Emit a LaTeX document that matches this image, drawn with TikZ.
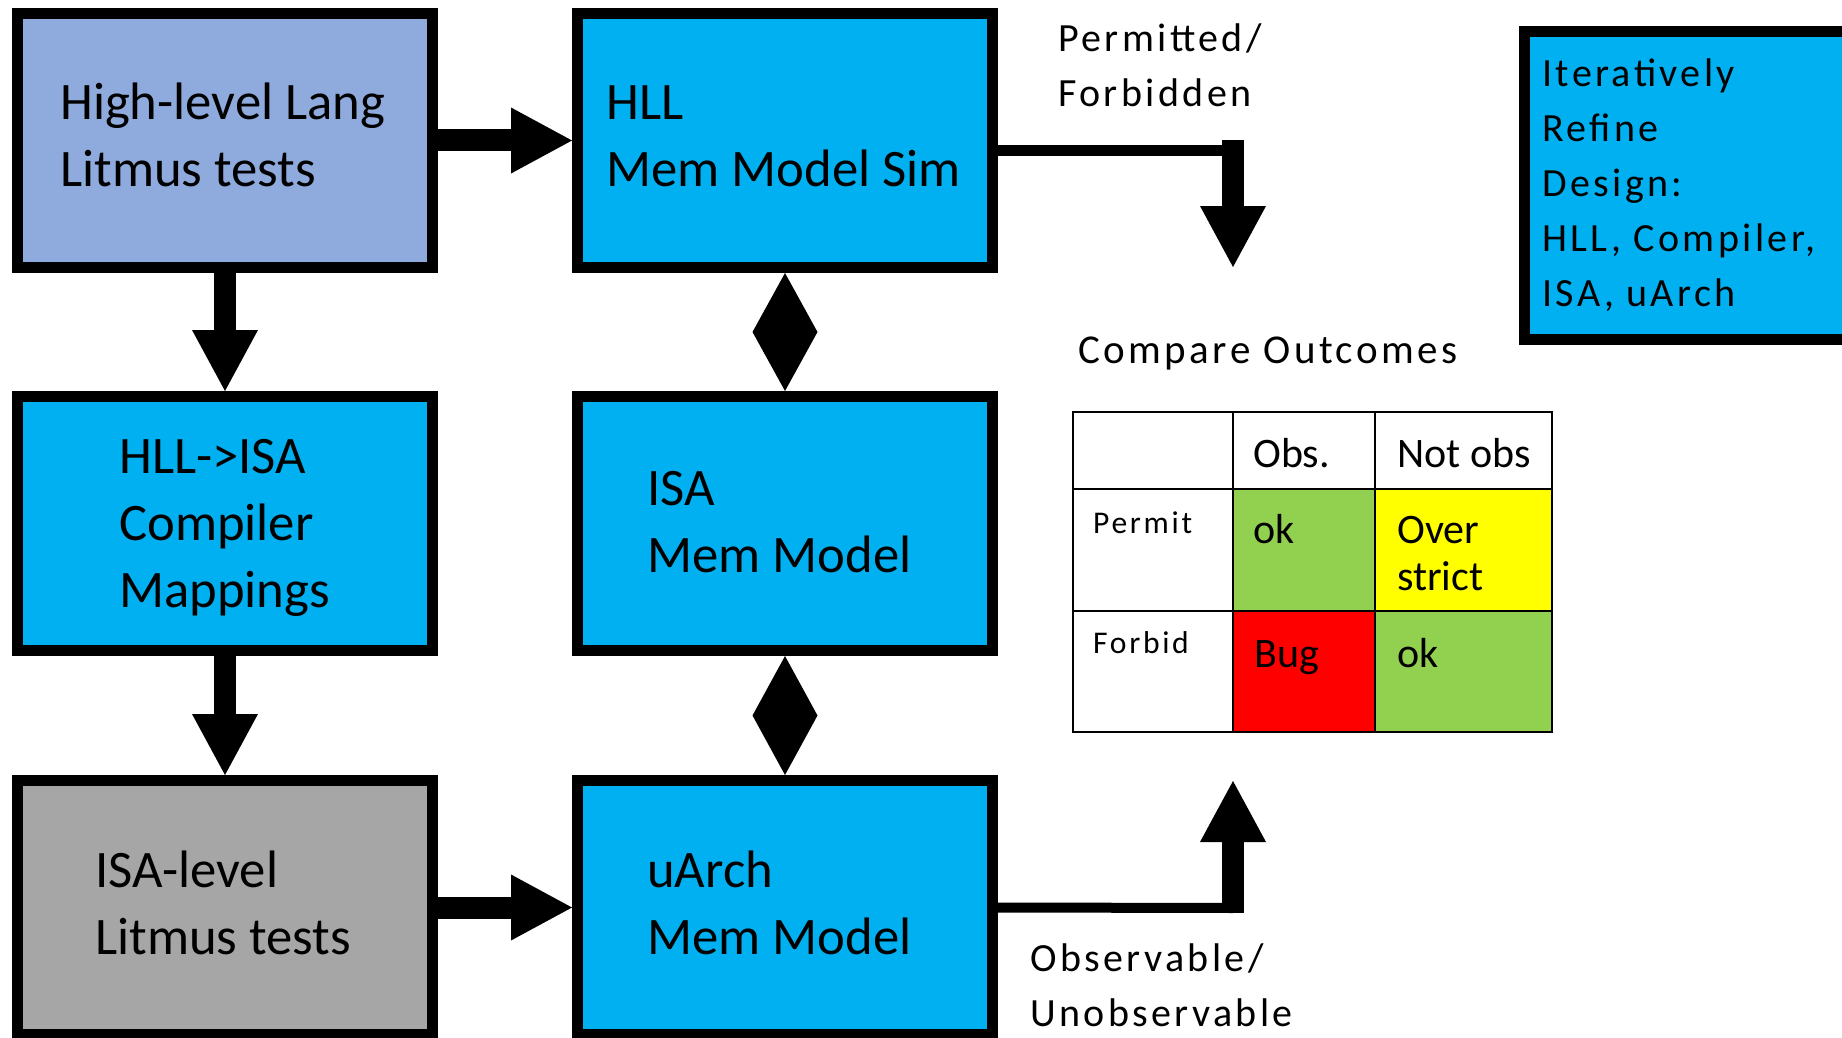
\documentclass[tikz,border=0pt]{standalone}
\usepackage{fontspec}
\setmainfont{Carlito}
\newfontfamily\spacedfont[LetterSpace=8.5]{Carlito}
\usetikzlibrary{arrows.meta,calc}
\definecolor{hllblue}{HTML}{8FAADC}
\definecolor{simcyan}{HTML}{00B0F0}
\definecolor{isagray}{HTML}{A6A6A6}
\definecolor{okgreen}{HTML}{92D050}
\definecolor{warnyellow}{HTML}{FFFF00}
\definecolor{bugred}{HTML}{FF0000}

\begin{document}
\begin{tikzpicture}[x=1pt,y=-1pt,
  stage/.style={draw=black, line width=11pt, minimum width=415pt, minimum height=254pt,
                inner sep=0pt, anchor=north west},
  % multi-line nodes are placed by the baseline of their last line
  boxtext/.style={font=\fontsize{52.7pt}{67pt}\selectfont, align=left, inner sep=0pt, anchor=base west},
  lbl/.style={font=\spacedfont\fontsize{40pt}{55pt}\selectfont, align=left, inner sep=0pt, anchor=base west},
  celltext/.style={font=\fontsize{42pt}{47pt}\selectfont, align=left, inner sep=0pt, anchor=base west},
  rowhead/.style={font=\spacedfont\fontsize{31.6pt}{36pt}\selectfont, inner sep=0pt, anchor=base west},
  blockarrow/.style={line width=22pt, -{Triangle[length=61pt,width=66pt,line width=0pt]}},
  grid/.style={line width=2.5pt, black}]

\useasboundingbox (0,0) rectangle (1842,1038);
\clip (0,0) rectangle (1842,1038);
\fill[white] (0,0) rectangle (1842,1038);

% stage boxes
\node[stage, fill=hllblue] (hll)     at (12,8)   {};
\node[stage, fill=simcyan] (hllsim)  at (572,8)  {};
\node[stage, fill=simcyan] (comp)    at (12,391) {};
\node[stage, fill=simcyan] (isamm)   at (572,391) {};
\node[stage, fill=isagray] (isatest) at (12,775) {};
\node[stage, fill=simcyan] (uarch)   at (572,775) {};
\node[stage, fill=simcyan, minimum width=330pt, minimum height=308pt] (refine) at (1519,26) {};

% box texts
\node[boxtext] (hlltxt)     at (60,186)  {High-level Lang\\Litmus tests};
\node[boxtext] (hllsimtxt)  at (606,186) {HLL\\Mem Model Sim};
\node[boxtext] (comptxt)    at (119,607) {HLL->ISA\\Compiler\\Mappings};
\node[boxtext] (isammtxt)   at (647,572) {ISA\\Mem Model};
\node[boxtext] (isatesttxt) at (95,954)  {ISA-level\\Litmus tests};
\node[boxtext] (uarchtxt)   at (647,954) {uArch\\Mem Model};
\node[lbl] (refinetxt) at (1542,306) {Iteratively\\Refine\\Design:\\HLL, Compiler,\\ISA, uArch};

% flow arrows
\draw[blockarrow] (hll.east) -- (hllsim.west);
\draw[blockarrow] (hll.south) -- (comp.north);
\draw[blockarrow] (comp.south) -- (isatest.north);
\draw[blockarrow] (isatest.east) -- (uarch.west);

% two-way links between the model levels
\fill (hllsim.south) -- ($(hllsim.south)!0.5!(isamm.north)+(32.5,0)$) -- (isamm.north)
      -- ($(hllsim.south)!0.5!(isamm.north)+(-32.5,0)$) -- cycle;
\fill (isamm.south) -- ($(isamm.south)!0.5!(uarch.north)+(32.5,0)$) -- (uarch.north)
      -- ($(isamm.south)!0.5!(uarch.north)+(-32.5,0)$) -- cycle;

% outcomes feeding the comparison
\coordinate (pfrow) at (1244,151);
\coordinate (pftop) at (1233,140);
\coordinate (cmpin) at (1233,267);
\draw[line width=11pt] (hllsim.east |- pfrow) -- (pfrow);
\draw[blockarrow] (pftop) -- (cmpin);

\coordinate (oubend) at (1233,908);
\coordinate (oubase) at (1233,913);
\coordinate (cmpin2) at (1233,781);
\draw[line width=10pt] (uarch.east) -- (oubend);
\draw[blockarrow] (oubase) -- (cmpin2);

\node[lbl] (pflbl) at (1058,107) {Permitted/\\Forbidden};
\node[lbl] (oulbl) at (1030,1026) {Observable/\\Unobservable};
\node[lbl, font=\spacedfont\fontsize{41pt}{55pt}\selectfont] (cmplbl) at (1078,363) {Compare Outcomes};

% outcome table
\fill[okgreen]    (1233,489) rectangle (1375,611);
\fill[warnyellow] (1375,489) rectangle (1552,611);
\fill[bugred]     (1233,611) rectangle (1375,732);
\fill[okgreen]    (1375,611) rectangle (1552,732);
\draw[grid] (1073,412) rectangle (1552,732);
\draw[grid] (1233,412) -- (1233,732);
\draw[grid] (1375,412) -- (1375,732);
\draw[grid] (1073,489) -- (1552,489);
\draw[grid] (1073,611) -- (1552,611);

\node[celltext] (obs)    at (1253,467) {Obs.};
\node[celltext] (notobs) at (1397,467) {Not obs};
\node[rowhead]  (permit) at (1093,533) {Permit};
\node[celltext] (ok1)    at (1253,543) {ok};
\node[celltext] (over)   at (1397,590) {Over\\strict};
\node[rowhead]  (forbid) at (1093,653) {Forbid};
\node[celltext] (bug)    at (1254,667) {Bug};
\node[celltext] (ok2)    at (1397,667) {ok};

\end{tikzpicture}
\end{document}
